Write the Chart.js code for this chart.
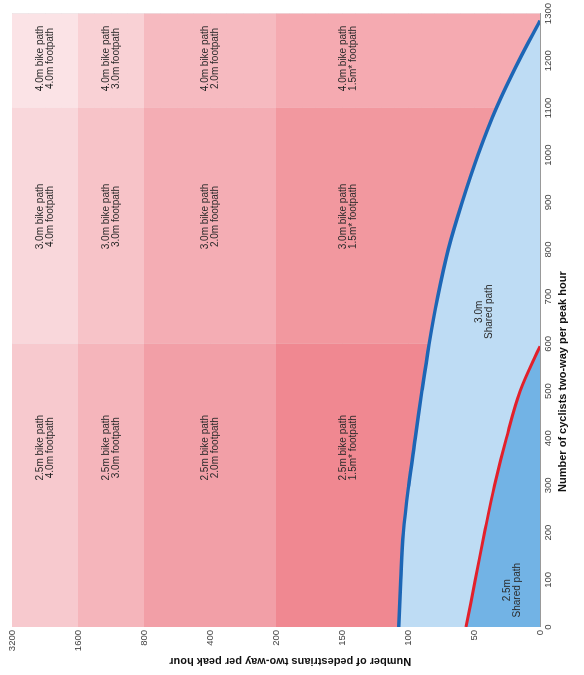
<!DOCTYPE html>
<html>
<head>
<meta charset="utf-8">
<script src="https://cdn.jsdelivr.net/npm/chart.js@4.4.1/dist/chart.umd.min.js"></script>
<style>
  html, body { margin: 0; padding: 0; background: #fff; overflow: hidden; }
  /* chart is drawn landscape, then turned a quarter turn anticlockwise */
  #wrap {
    position: absolute; left: 0; top: 0; width: 675px; height: 584px;
    transform-origin: 0 0; transform: translateY(675px) rotate(-90deg);
  }
</style>
</head>
<body>
<div id="wrap"><canvas id="chart" width="675" height="584"></canvas></div>
<script>
// axes
const cyclistTicks = [0, 100, 200, 300, 400, 500, 600, 700, 800, 900, 1000, 1100, 1200, 1300];
const pedestrianTicks = [0, 50, 100, 150, 200, 400, 800, 1600, 3200];

// 3.0m shared path limit
const blueCyclists = [0, 100, 200, 300, 400, 500, 600, 700, 800, 900, 1000, 1100, 1200, 1285];
const bluePedestrians = [107, 105.5, 103.5, 99.5, 94.5, 89.5, 84, 77.5, 69.5, 59, 47, 33, 16, 0];

// 2.5m shared path limit
const redCyclists = [0, 100, 200, 300, 400, 500, 595];
const redPedestrians = [56, 49, 42, 34.5, 25.5, 15, 0];

// separated path zones
const cyclistBands = [0, 600, 1100, 1300];
const bikePaths = ["2.5m bike path", "3.0m bike path", "4.0m bike path"];
const pedestrianBands = [3200, 1600, 800, 200, 0];
const footpaths = ["4.0m footpath", "3.0m footpath", "2.0m footpath", "1.5m* footpath"];

const sharedPaths = ["2.5m", "3.0m"];

// label anchors (data units)
const bikeLabelAt = [380, 870, 1205];
const footLabelAt = [2263, 1131, 400, 145];
const sharedLabelAt = [[78, 21], [668, 42]];

const zoneColours = [
  ["#f7c9ce", "#f5b5bb", "#f29fa7", "#f08891"],
  ["#f9d7db", "#f7c3c8", "#f4adb4", "#f2989f"],
  ["#fbe3e6", "#f9d1d5", "#f6bac0", "#f5aab1"],
];

const FONT = '"Liberation Sans", Arial, sans-serif';

// pedestrian axis is linear to 200 then doubles per step
const pedPos = (v) => (v <= 200 ? v / 50 : 4 + Math.log2(v / 200));

const pedGrid = [];
for (let k = 0; k <= 20; k++) pedGrid.push(k / 5);
for (let k = 1; k <= 16; k++) pedGrid.push(4 + k / 4);

const isWhole = (v) => Math.abs(v - Math.round(v)) < 1e-9;

const zones = {
  id: "zones",
  beforeDatasetsDraw(chart) {
    const { ctx, scales: { x, y } } = chart;
    ctx.save();
    for (let r = 0; r < bikePaths.length; r++) {
      for (let c = 0; c < footpaths.length; c++) {
        const x0 = x.getPixelForValue(cyclistBands[r]);
        const x1 = x.getPixelForValue(cyclistBands[r + 1]);
        const y0 = y.getPixelForValue(pedPos(pedestrianBands[c]));
        const y1 = y.getPixelForValue(pedPos(pedestrianBands[c + 1]));
        ctx.fillStyle = zoneColours[r][c];
        ctx.fillRect(x0, y0, x1 - x0, y1 - y0);
      }
    }
    ctx.restore();
  },
  afterDraw(chart) {
    const { ctx, scales: { x, y } } = chart;
    ctx.save();
    ctx.fillStyle = "#2a2a2a";
    ctx.textAlign = "center";
    ctx.textBaseline = "middle";
    ctx.font = "10px " + FONT;
    const two = (a, b, px, py) => {
      ctx.fillText(a, px, py - 5);
      ctx.fillText(b, px, py + 5);
    };
    for (let r = 0; r < bikePaths.length; r++) {
      for (let c = 0; c < footpaths.length; c++) {
        two(bikePaths[r], footpaths[c],
          x.getPixelForValue(bikeLabelAt[r]),
          y.getPixelForValue(pedPos(footLabelAt[c])));
      }
    }
    sharedPaths.forEach((s, i) => {
      two(s, "Shared path",
        x.getPixelForValue(sharedLabelAt[i][0]),
        y.getPixelForValue(pedPos(sharedLabelAt[i][1])));
    });

    // axis titles
    ctx.fillStyle = "#111";
    ctx.font = "bold 11px " + FONT;
    ctx.fillText("Number of cyclists two-way per peak hour",
      x.left + (x.right - x.left) * 0.4, 563);
    ctx.translate(13.5, y.top + (y.bottom - y.top) * 0.527);
    ctx.rotate(-Math.PI / 2);
    ctx.fillText("Number of pedestrians two-way per peak hour", 0, 0);
    ctx.restore();
  },
};

const toPoints = (xs, ys) => xs.map((c, i) => ({ x: c, y: pedPos(ys[i]) }));

new Chart(document.getElementById("chart"), {
  type: "line",
  data: {
    datasets: [
      {
        data: toPoints(redCyclists, redPedestrians),
        borderColor: "#e3202b",
        borderWidth: 3,
        backgroundColor: "#72b3e5",
        fill: "origin",
        pointRadius: 0,
        tension: 0.35,
      },
      {
        data: toPoints(blueCyclists, bluePedestrians),
        borderColor: "#1d66b5",
        borderWidth: 3.5,
        backgroundColor: "#bedcf4",
        fill: "origin",
        pointRadius: 0,
        tension: 0.35,
      },
    ],
  },
  options: {
    responsive: false,
    animation: false,
    layout: { padding: { top: 12, right: 10 } },
    scales: {
      x: {
        type: "linear",
        min: 0,
        max: 1300,
        z: 1,
        afterBuildTicks: (s) => { s.ticks = cyclistTicks.map((v) => ({ value: v })); },
        afterFit: (s) => { s.height = 44; },
        ticks: {
          maxRotation: 0,
          autoSkip: false,
          padding: 3,
          color: "#444",
          font: { size: 9.5, family: FONT },
          callback: (v) => String(v),
        },
        grid: { color: "rgba(90,90,110,0.13)", drawTicks: false },
        border: { color: "#999" },
      },
      y: {
        type: "linear",
        min: 0,
        max: 8,
        z: 1,
        afterBuildTicks: (s) => { s.ticks = pedGrid.map((v) => ({ value: v })); },
        afterFit: (s) => { s.width = 48; },
        ticks: {
          autoSkip: false,
          padding: 3,
          color: "#444",
          font: { size: 9.5, family: FONT },
          callback: (v) => (isWhole(v) ? String(pedestrianTicks[Math.round(v)]) : ""),
        },
        grid: {
          color: (c) => (isWhole(c.tick.value) ? "rgba(90,90,110,0.13)" : "rgba(90,90,110,0.07)"),
          drawTicks: false,
        },
        border: { color: "#999" },
      },
    },
    plugins: {
      legend: { display: false },
      tooltip: { enabled: false },
    },
  },
  plugins: [zones],
});
</script>
</body>
</html>
